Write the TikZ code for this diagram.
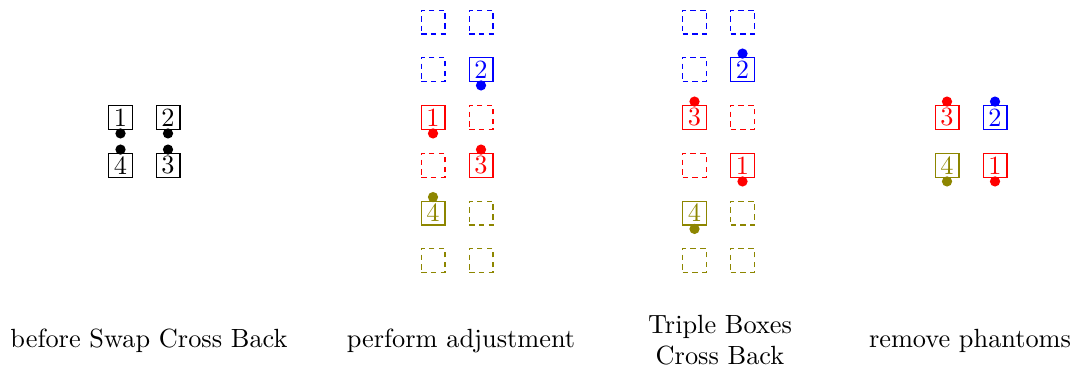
\documentclass[tikz,border=0pt]{standalone}
\usetikzlibrary{calc}
\tikzset{
  bx/.style={draw, rectangle, minimum size=9.1pt, inner sep=0pt},
  ph/.style={draw, rectangle, minimum size=9.1pt, inner sep=0pt, dash pattern=on 2.1pt off 1.6pt},
  lbl/.style={align=center, font=\normalsize},
}
% dot hanging below / sitting on top of a box
\newcommand{\dotbelow}[2]{\fill[#1] ([yshift=-1.3pt]#2.south) circle (1.95pt);}
\newcommand{\dotabove}[2]{\fill[#1] ([yshift=1.3pt]#2.north) circle (1.95pt);}
\begin{document}
\begin{tikzpicture}[x=0.38pt, y=-0.38pt]
\useasboundingbox (0,0) rectangle (1078,368);

% --- before Swap Cross Back ---
\node[bx] (a1) at (120.5,117.5) {1};
\node[bx] (a2) at (168,117.5) {2};
\node[bx] (a4) at (120.5,165.5) {4};
\node[bx] (a3) at (168,165.5) {3};
\dotbelow{black}{a1}
\dotbelow{black}{a2}
\dotabove{black}{a4}
\dotabove{black}{a3}
\node[lbl] (t1) at (149,341) {before Swap Cross Back};

% --- perform adjustment ---
\node[ph, blue] (b11) at (433,22) {};
\node[ph, blue] (b12) at (481,22) {};
\node[ph, blue] (b21) at (433,69.5) {};
\node[bx, blue] (b22) at (481,69.5) {2};
\node[bx, red] (b31) at (433,117.5) {1};
\node[ph, red] (b32) at (481,117.5) {};
\node[ph, red] (b41) at (433,165.5) {};
\node[bx, red] (b42) at (481,165.5) {3};
\node[bx, olive] (b51) at (433,213) {4};
\node[ph, olive] (b52) at (481,213) {};
\node[ph, olive] (b61) at (433,260.5) {};
\node[ph, olive] (b62) at (481,260.5) {};
\dotbelow{blue}{b22}
\dotbelow{red}{b31}
\dotabove{red}{b42}
\dotabove{olive}{b51}
\node[lbl] (t2) at (461,341) {perform adjustment};

% --- Triple Boxes Cross Back ---
\node[ph, blue] (c11) at (694.5,22) {};
\node[ph, blue] (c12) at (742.5,22) {};
\node[ph, blue] (c21) at (694.5,69.5) {};
\node[bx, blue] (c22) at (742.5,69.5) {2};
\node[bx, red] (c31) at (694.5,117.5) {3};
\node[ph, red] (c32) at (742.5,117.5) {};
\node[ph, red] (c41) at (694.5,165.5) {};
\node[bx, red] (c42) at (742.5,165.5) {1};
\node[bx, olive] (c51) at (694.5,213) {4};
\node[ph, olive] (c52) at (742.5,213) {};
\node[ph, olive] (c61) at (694.5,260.5) {};
\node[ph, olive] (c62) at (742.5,260.5) {};
\dotabove{blue}{c22}
\dotabove{red}{c31}
\dotbelow{red}{c42}
\dotbelow{olive}{c51}
\node[lbl] (t3) at (720,340) {Triple Boxes\\Cross Back};

% --- remove phantoms ---
\node[bx, red] (d1) at (947,117.5) {3};
\node[bx, blue] (d2) at (995,117.5) {2};
\node[bx, olive] (d3) at (947,165.5) {4};
\node[bx, red] (d4) at (995,165.5) {1};
\dotabove{red}{d1}
\dotabove{blue}{d2}
\dotbelow{olive}{d3}
\dotbelow{red}{d4}
\node[lbl] (t4) at (970,341) {remove phantoms};
\end{tikzpicture}
\end{document}
